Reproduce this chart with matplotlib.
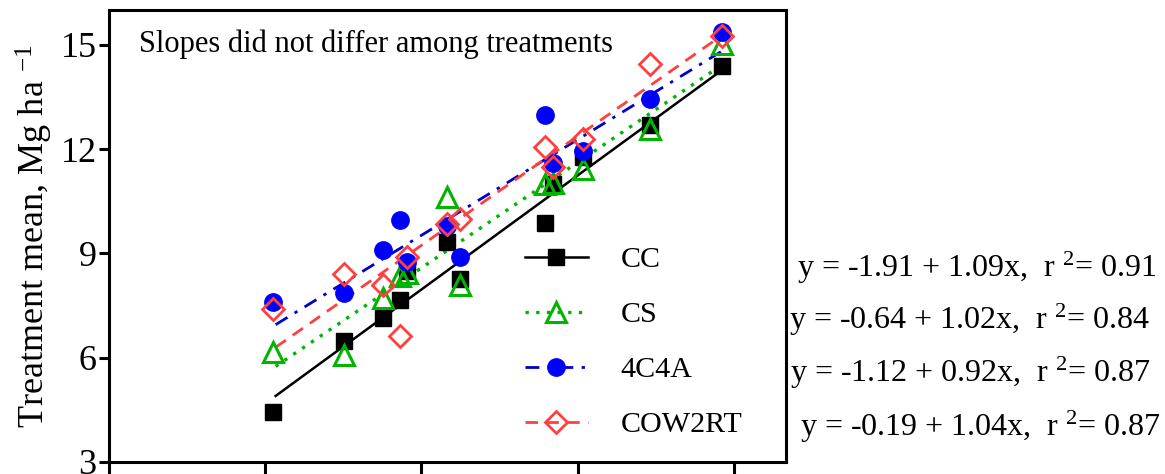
import matplotlib
matplotlib.use("Agg")
import matplotlib.pyplot as plt
from matplotlib.legend_handler import HandlerLine2D

plt.rcParams['font.family'] = ['Liberation Serif', 'DejaVu Serif']
plt.rcParams['mathtext.fontset'] = 'custom'
plt.rcParams['mathtext.rm'] = 'Liberation Serif'
plt.rcParams['mathtext.it'] = 'Liberation Serif:italic'

# environment (site-year) means, shared by all treatments
env_mean = [6.15, 7.52, 8.26, 8.59, 8.73, 9.49, 9.74, 11.37, 11.53, 12.10, 13.39, 14.77]

treatments = ['CC', 'CS', '4C4A', 'COW2RT']
cc = [4.44, 6.49, 7.15, 7.65, 8.50, 9.32, 8.25, 9.86, 11.00, 11.77, 12.68, 14.39]
cs = [6.15, 6.09, 7.73, 8.35, 8.45, 10.61, 8.10, 11.00, 11.02, 11.42, 12.58, 15.03]
c4a = [7.61, 7.87, 9.11, 9.95, 8.74, 9.80, 8.91, 12.98, 11.60, 11.94, 13.44, 15.37]
cow = [7.41, 8.42, 8.10, 6.63, 8.90, 9.85, 10.00, 12.05, 11.48, 12.29, 14.45, 15.26]

# fitted lines (end points)
fit_x = [6.2, 14.75]
fit_cc = [4.90, 14.25]
fit_cs = [5.75, 14.40]
fit_c4a = [6.95, 14.80]
fit_cow = [6.30, 15.25]

equations = [
    'y = -1.91 + 1.09x,  r $^{2}$= 0.91',
    'y = -0.64 + 1.02x,  r $^{2}$= 0.84',
    'y = -1.12 + 0.92x,  r $^{2}$= 0.87',
    'y = -0.19 + 1.04x,  r $^{2}$= 0.87',
]


class HandlerMarkerEnd(HandlerLine2D):
    # put the marker at the right end of the legend line
    def get_xdata(self, legend, xdescent, ydescent, width, height, fontsize):
        xdata = [-xdescent, -xdescent + width]
        return xdata, [-xdescent + width]


fig = plt.figure(figsize=(11.65, 4.74), dpi=100)
ax = fig.add_axes([109 / 1165, 1 - 462 / 474, 677 / 1165, 452 / 474])

styles = [
    dict(color='black', ls='-', marker='s', mfc='black', mec='black', ms=11, mew=1, lw=1.8),
    dict(color='#00B400', ls=(0, (1, 2.2)), marker='^', mfc='none', mec='#00B400', ms=14, mew=2.2, lw=2.4),
    dict(color='#0000C8', ls=(0, (5, 3, 1.2, 3)), marker='o', mfc='#0000FF', mec='#0000FF', ms=12.5, mew=1, lw=2.0),
    dict(color='#FF4040', ls=(0, (4.5, 3)), marker='D', mfc='none', mec='#FF4040', ms=11.5, mew=2.0, lw=2.0),
]
series = [cc, cs, c4a, cow]
fits = [fit_cc, fit_cs, fit_c4a, fit_cow]

handles = []
for name, y, fy, st in zip(treatments, series, fits, styles):
    ax.plot(fit_x, fy, color=st['color'], ls=st['ls'], lw=st['lw'], zorder=2)
    ax.plot(env_mean, y, ls='none', marker=st['marker'], mfc=st['mfc'], mec=st['mec'],
            ms=st['ms'], mew=st['mew'], zorder=3)
    h, = ax.plot([], [], color=st['color'], ls=st['ls'], lw=st['lw'], marker=st['marker'],
                 mfc=st['mfc'], mec=st['mec'], ms=st['ms'], mew=st['mew'])
    handles.append(h)

ax.set_xlim(3, 16)
ax.set_ylim(3, 16)
ax.set_xticks([3, 6, 9, 12, 15])
ax.set_xticklabels([])
ax.set_yticks([3, 6, 9, 12, 15])
ax.tick_params(axis='y', direction='out', length=7, width=2.2, labelsize=26, pad=2)
ax.tick_params(axis='x', direction='out', length=10, width=2.2)
for sp in ax.spines.values():
    sp.set_linewidth(2.2)

ax.set_ylabel('Treatment mean, Mg ha $^{-1}$', fontsize=26, labelpad=4)

ax.text(0.045, 0.925, 'Slopes did not differ among treatments', transform=ax.transAxes,
        fontsize=22, va='center', ha='left')

ax.legend(handles, treatments, handler_map={h: HandlerMarkerEnd(numpoints=1) for h in handles},
          loc='upper left', bbox_to_anchor=(0.614, 0.477), frameon=False, fontsize=21.6,
          handlelength=2.1, handletextpad=1.1, labelspacing=0.93, borderpad=0, borderaxespad=0)

eq_x = [797, 789, 790, 800]
eq_y = [268, 320, 373, 427]
for txt, px, py in zip(equations, eq_x, eq_y):
    fig.text(px / 1165, 1 - py / 474, txt, fontsize=23, ha='left', va='center')

fig.savefig('out.png', dpi=100)
